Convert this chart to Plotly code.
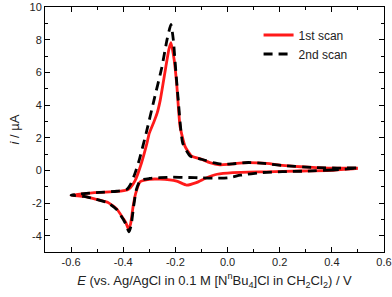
import plotly.graph_objects as go

# Scan 1 (red, solid): cathodic branch 0.5 -> -0.6, then anodic branch -0.6 -> 0.5
scan1_E = [0.50, 0.40, 0.28, 0.15, 0.02, -0.04, -0.08, -0.12, -0.157, -0.195, -0.26, -0.30, -0.335,
           -0.352, -0.362, -0.372, -0.380, -0.39, -0.40, -0.425, -0.46, -0.51, -0.55, -0.60,
           -0.55, -0.49, -0.425, -0.385, -0.372, -0.355, -0.33, -0.31, -0.30, -0.284, -0.27, -0.258,
           -0.237, -0.225, -0.217, -0.205, -0.195, -0.182, -0.163, -0.138, -0.10, -0.068, -0.03, 0.0,
           0.06, 0.15, 0.21, 0.28, 0.34, 0.42, 0.50]
scan1_i = [0.12, 0.0, -0.04, -0.09, -0.14, -0.24, -0.45, -0.75, -0.90, -0.66, -0.54, -0.55, -0.70,
           -1.4, -2.2, -3.3, -3.6, -3.2, -2.95, -2.36, -1.96, -1.75, -1.6, -1.52,
           -1.42, -1.35, -1.29, -1.2, -1.05, -0.65, 0.45, 1.6, 2.28, 2.9, 3.5, 4.3,
           6.3, 7.4, 7.82, 6.8, 5.3, 2.68, 1.47, 0.87, 0.68, 0.47, 0.34, 0.36,
           0.46, 0.42, 0.30, 0.22, 0.17, 0.13, 0.14]

# Scan 2 (black, dashed)
scan2_E = [0.50, 0.40, 0.30, 0.21, 0.13, 0.05, 0.0, -0.05, -0.10, -0.15, -0.22, -0.30, -0.335,
           -0.350, -0.360, -0.370, -0.378, -0.39, -0.40, -0.425, -0.46, -0.51, -0.55, -0.60,
           -0.55, -0.49, -0.425, -0.385, -0.370, -0.354, -0.338, -0.312, -0.282, -0.252, -0.232,
           -0.217, -0.208, -0.198, -0.189, -0.172, -0.143, -0.10, -0.05, -0.02, 0.02, 0.08, 0.14,
           0.22, 0.34, 0.42, 0.50]
scan2_i = [0.14, 0.02, -0.05, -0.08, -0.14, -0.30, -0.46, -0.48, -0.46, -0.44, -0.42, -0.50, -0.62,
           -1.2, -2.2, -3.4, -3.77, -3.3, -3.0, -2.4, -1.98, -1.75, -1.6, -1.52,
           -1.42, -1.35, -1.28, -1.15, -0.8, -0.14, 0.67, 2.28, 4.3, 6.3, 8.0,
           8.93, 8.0, 6.0, 4.3, 1.67, 0.87, 0.68, 0.45, 0.37, 0.40, 0.48, 0.42,
           0.28, 0.17, 0.14, 0.14]

x_ticks = [-0.6, -0.4, -0.2, 0.0, 0.2, 0.4, 0.6]
x_labels = ["-0.6", "-0.4", "-0.2", "0.0", "0.2", "0.4", "0.6"]
y_ticks = [-4, -2, 0, 2, 4, 6, 8, 10]
y_labels = ["-4", "-2", "0", "2", "4", "6", "8", "10"]

font = "Liberation Sans, Arial, sans-serif"

fig = go.Figure()
fig.add_trace(go.Scatter(x=scan1_E, y=scan1_i, mode="lines", name="1st scan",
                         line=dict(color="#ff1a1a", width=2.8, shape="spline", smoothing=0.5)))
fig.add_trace(go.Scatter(x=scan2_E, y=scan2_i, mode="lines", name="2nd scan",
                         line=dict(color="black", width=2.8, dash="9px,6px", shape="spline", smoothing=0.5)))

axis_common = dict(showline=True, linecolor="black", linewidth=1, mirror="allticks",
                   ticks="inside", ticklen=5, tickcolor="black", tickwidth=1,
                   showgrid=False, zeroline=False, automargin=False,
                   tickfont=dict(family=font, size=11, color="#222"))

fig.update_xaxes(range=[-0.7, 0.6], tickvals=x_ticks, ticktext=x_labels,
                 minor=dict(ticks="inside", dtick=0.1, tick0=0, ticklen=3, tickcolor="black"),
                 title=dict(text="<i>E</i> (vs. Ag/AgCl in 0.1 M [N<sup>n</sup>Bu<sub>4</sub>]Cl in CH<sub>2</sub>Cl<sub>2</sub>) / V",
                            font=dict(family=font, size=13, color="#222"), standoff=8),
                 **axis_common)
fig.update_yaxes(range=[-5, 10], tickvals=y_ticks, ticktext=y_labels,
                 minor=dict(ticks="inside", dtick=1, tick0=0, ticklen=3, tickcolor="black"),
                 title=dict(text="<i>i</i> / µA", font=dict(family=font, size=13, color="#222"), standoff=6),
                 **axis_common)

fig.update_layout(width=392, height=297, margin=dict(l=45, r=8, t=7, b=45),
                  plot_bgcolor="white", paper_bgcolor="white",
                  legend=dict(x=0.63, y=0.945, xanchor="left", yanchor="top",
                              bgcolor="rgba(0,0,0,0)", font=dict(family=font, size=12, color="#222"),
                              tracegroupgap=0, itemwidth=30))

fig.write_html("out.html", config={"displayModeBar": False},
               post_script="document.body.style.margin='0';document.body.style.padding='0';document.body.style.overflow='hidden';")
